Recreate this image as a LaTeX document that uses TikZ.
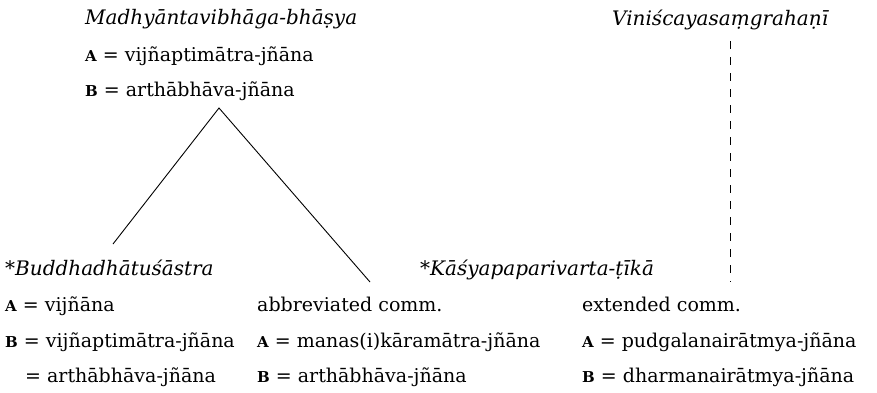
\documentclass[tikz,border=0pt]{standalone}
\usepackage{fontspec}
\setmainfont{DejaVu Serif}
\newcommand{\lab}[1]{{\fontsize{15}{15}\selectfont\bfseries #1}}
\tikzset{
  txt/.style={anchor=base west, inner sep=0pt, font=\fontsize{19}{21}\selectfont},
  ttl/.style={txt, font=\fontsize{20}{22}\selectfont\itshape},
  tree/.style={line width=0.9pt, black},
  dsh/.style={line width=0.9pt, dash pattern=on 8pt off 8pt}
}
\begin{document}
\begin{tikzpicture}[x=1pt,y=-1pt]
\useasboundingbox (0,0) rectangle (877,392);
% top left
\node[ttl] (mvb) at (85,24) {Madhyāntavibhāga-bhāṣya};
\node[txt] (mvbA) at (85,61) {\lab{A} = vijñaptimātra-jñāna};
\node[txt] (mvbB) at (85,96) {\lab{B} = arthābhāva-jñāna};
% top right
\node[ttl] (vin) at (612,25) {Viniścayasaṃgrahaṇī};
% bottom left
\node[ttl] (bdh) at (5,275) {*Buddhadhātuśāstra};
\node[txt] (bdhA) at (5,311) {\lab{A} = vijñāna};
\node[txt] (bdhB) at (5,347) {\lab{B} = vijñaptimātra-jñāna};
\node[txt] (bdhC) at (25,382) {= arthābhāva-jñāna};
% bottom middle/right
\node[ttl] (kas) at (420,275) {*Kāśyapaparivarta-ṭīkā};
\node[txt] (abr) at (257,311) {abbreviated comm.};
\node[txt] (abrA) at (257,347) {\lab{A} = manas(i)kāramātra-jñāna};
\node[txt] (abrB) at (257,382) {\lab{B} = arthābhāva-jñāna};
\node[txt] (ext) at (582,311) {extended comm.};
\node[txt] (extA) at (582,347) {\lab{A} = pudgalanairātmya-jñāna};
\node[txt] (extB) at (582,382) {\lab{B} = dharmanairātmya-jñāna};
% connectors
\coordinate (apex) at (219,108);
\coordinate (lend) at (113,244);
\coordinate (rend) at (370,282);
\coordinate (dtop) at (730,41);
\coordinate (dbot) at (730,282);
\draw[tree] (lend) -- (apex) -- (rend);
\draw[dsh] (dtop) -- (dbot);
\end{tikzpicture}
\end{document}
